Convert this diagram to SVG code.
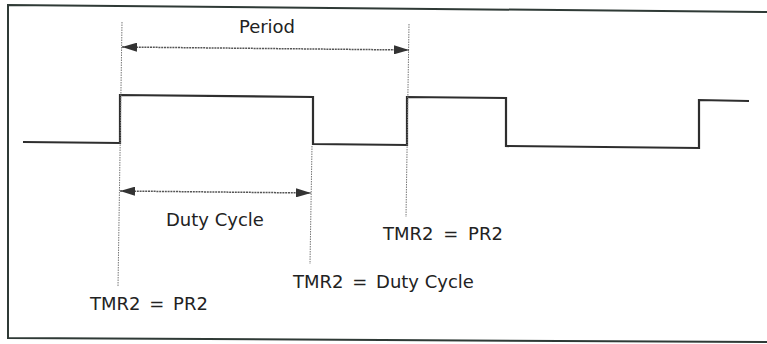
<svg xmlns="http://www.w3.org/2000/svg" width="767" height="344" viewBox="0 0 767 344">
  <style>
    .frame { fill: none; stroke: #2f3a36; stroke-width: 2; }
    .wave { fill: none; stroke: #2e2e2e; stroke-width: 2.2; stroke-linejoin: miter; }
    .guide { fill: none; stroke: #777; stroke-width: 1; stroke-dasharray: 1.5 1; }
    .dim { fill: none; stroke: #555; stroke-width: 1.5; stroke-dasharray: 2 0.8; }
    .lbl { font-family: "DejaVu Sans", Verdana, sans-serif; font-size: 18px; fill: #222; }
  </style>
  <defs>
    <marker id="ah" viewBox="0 0 15 9" refX="15" refY="4.5" markerWidth="15" markerHeight="9" markerUnits="userSpaceOnUse" orient="auto-start-reverse">
      <path d="M0,0 L15,4.5 L0,9 Z" fill="#333"/>
    </marker>
  </defs>
  <rect width="767" height="344" fill="#ffffff"/>
  <g id="frame">
    <polyline class="frame" points="767,12 8,5 8,338 767,342"/>
  </g>
  <g id="waveform">
    <polyline class="wave" points="23,142 120,143 120,95 313,97 313,144 407,145 407,97 506,98 506,146 699,148 699,100 749,101"/>
  </g>
  <g id="guides">
    <line class="guide" x1="122" y1="22" x2="118" y2="287"/>
    <line class="guide" x1="312" y1="146" x2="310" y2="264"/>
    <line class="guide" x1="409" y1="24" x2="406" y2="217"/>
  </g>
  <g id="connectors">
    <line id="period-arrow" class="dim" x1="122" y1="47" x2="409" y2="50" marker-start="url(#ah)" marker-end="url(#ah)"/>
    <line id="duty-arrow" class="dim" x1="120" y1="191" x2="311" y2="193" marker-start="url(#ah)" marker-end="url(#ah)"/>
  </g>
  <g id="label-period"><text class="lbl" x="267" y="33" text-anchor="middle">Period</text></g>
  <g id="label-duty"><text class="lbl" x="166" y="226">Duty Cycle</text></g>
  <g id="label-tmr2-pr2-right"><text class="lbl" x="383" y="240">TMR2 <tspan dx="4">= </tspan><tspan dx="4">PR2</tspan></text></g>
  <g id="label-tmr2-duty"><text class="lbl" x="293" y="288">TMR2 <tspan dx="3">= </tspan><tspan dx="3">Duty Cycle</tspan></text></g>
  <g id="label-tmr2-pr2-left"><text class="lbl" x="90" y="310">TMR2 <tspan dx="3">= </tspan><tspan dx="3">PR2</tspan></text></g>
</svg>
